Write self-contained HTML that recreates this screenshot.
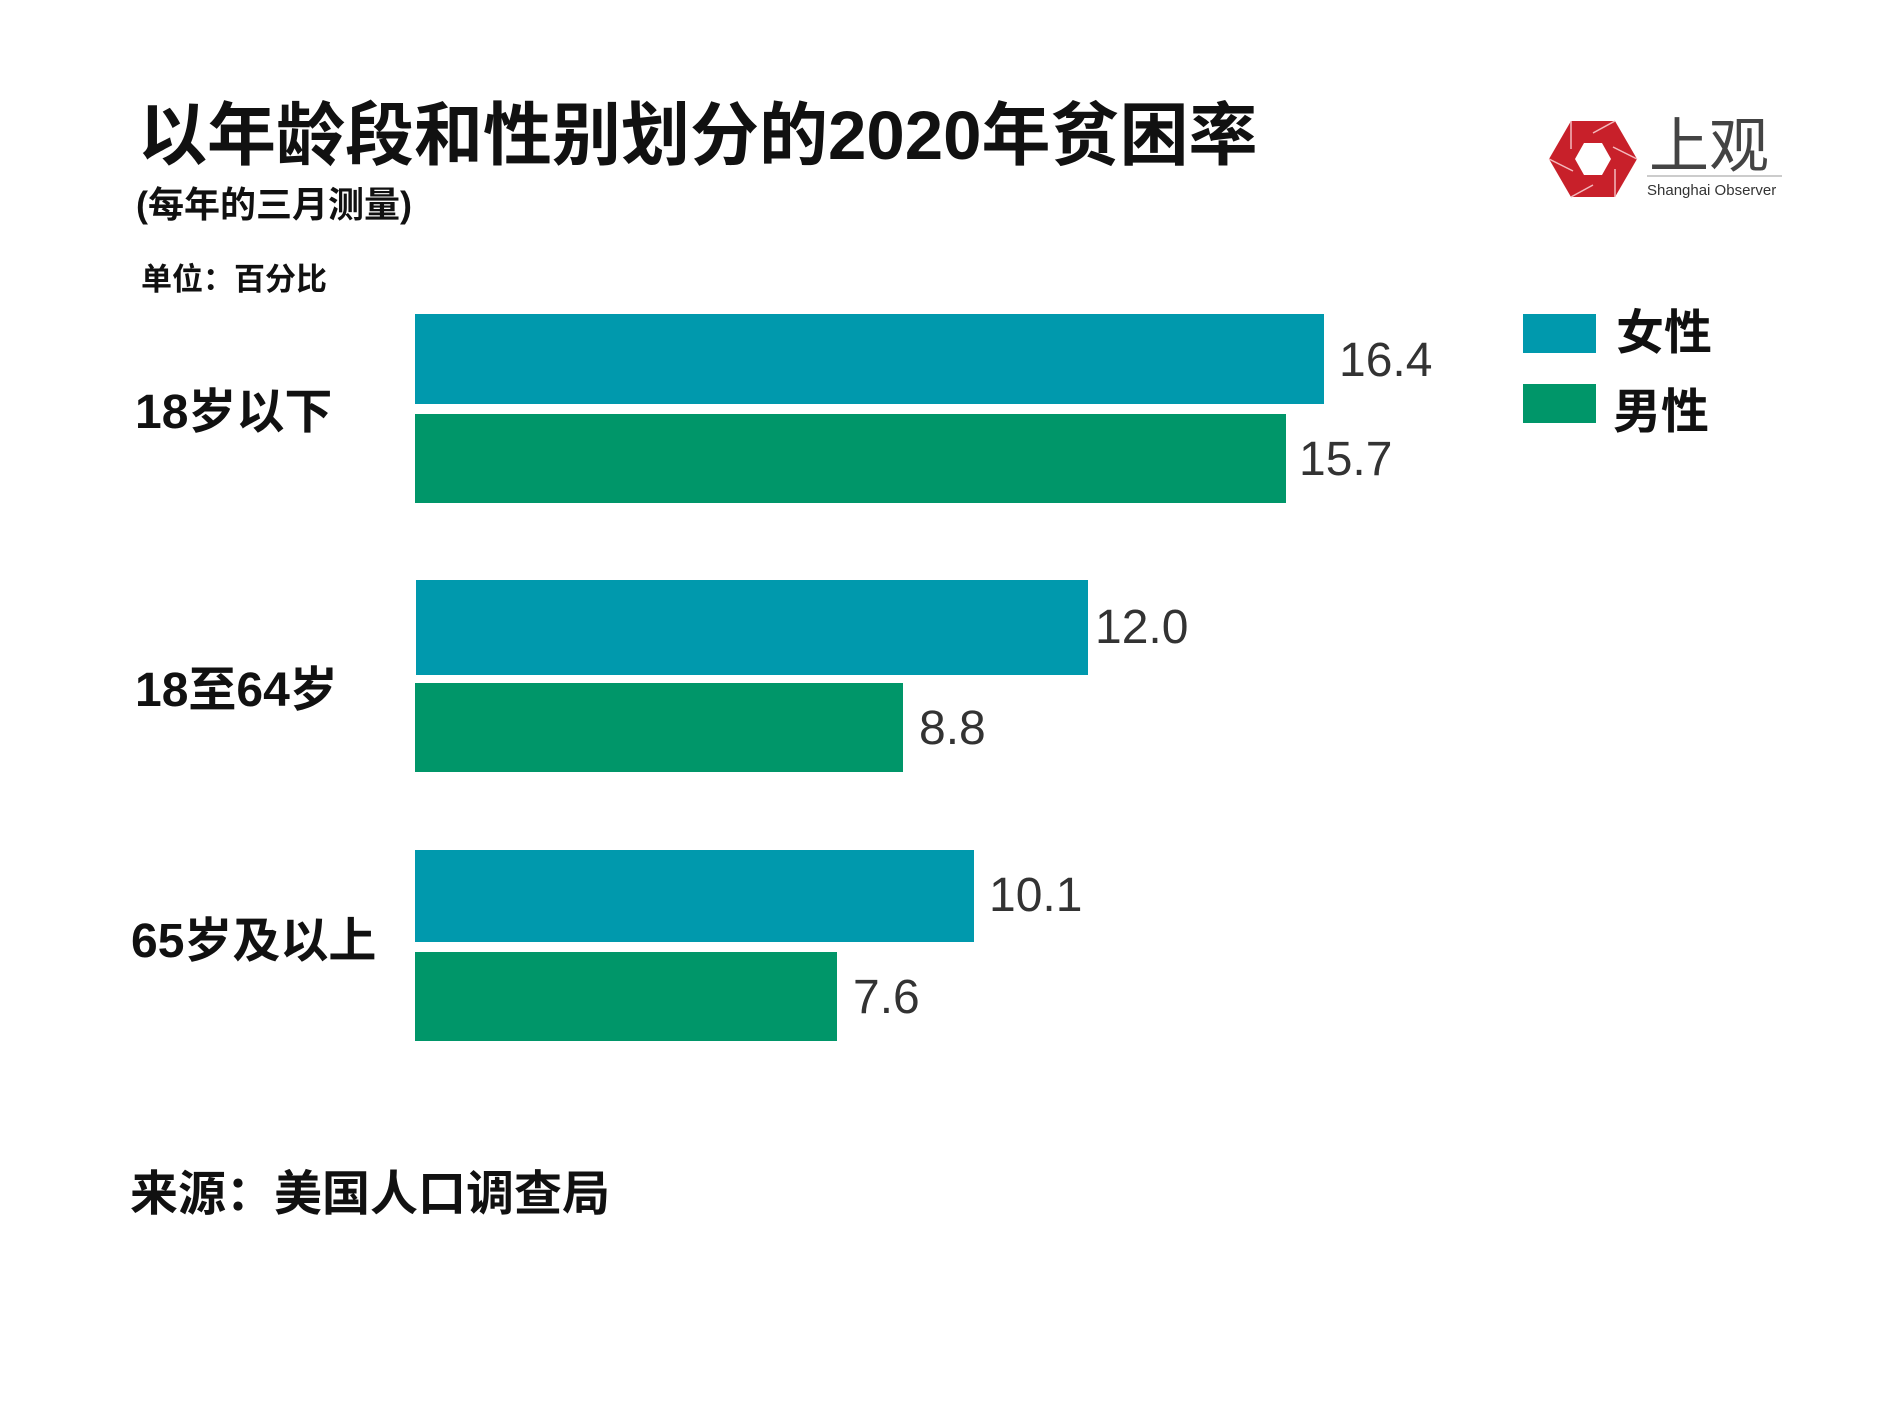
<!DOCTYPE html>
<html><head><meta charset="utf-8"><style>
body{margin:0;background:#fff;}
svg text{font-family:"Liberation Sans","Noto Sans CJK SC",sans-serif;}
</style></head><body>
<svg width="1890" height="1417" viewBox="0 0 1890 1417" xmlns="http://www.w3.org/2000/svg">
<rect width="1890" height="1417" fill="#fff"/>
<text x="138" y="159" font-size="69" font-weight="bold" fill="#111">以年龄段和性别划分的2020年贫困率</text>
<text x="136" y="217" font-size="36" font-weight="bold" fill="#111">(每年的三月测量)</text>
<text x="141" y="290" font-size="31" font-weight="bold" fill="#111">单位：百分比</text>

<rect x="415" y="314" width="909" height="90" fill="#0099AD"/>
<rect x="415" y="414" width="871" height="89" fill="#009669"/>
<rect x="416" y="580" width="672" height="95" fill="#0099AD"/>
<rect x="415" y="683" width="488" height="89" fill="#009669"/>
<rect x="415" y="850" width="559" height="92" fill="#0099AD"/>
<rect x="415" y="952" width="422" height="89" fill="#009669"/>

<g font-size="48" fill="#333">
<text x="1339" y="376">16.4</text>
<text x="1299" y="475">15.7</text>
<text x="1095" y="643">12.0</text>
<text x="919" y="744">8.8</text>
<text x="989" y="911">10.1</text>
<text x="853" y="1013">7.6</text>
</g>

<g font-size="48" font-weight="bold" fill="#111">
<text x="135" y="428">18岁以下</text>
<text x="135" y="706">18至64岁</text>
<text x="131" y="957">65岁及以上</text>
<text x="130" y="1210">来源：美国人口调查局</text>
</g>

<rect x="1523" y="314" width="73" height="39" fill="#0099AD"/>
<rect x="1523" y="384" width="73" height="39" fill="#009669"/>
<text x="1616" y="349" font-size="48" font-weight="bold" fill="#111">女性</text>
<text x="1613" y="428" font-size="48" font-weight="bold" fill="#111">男性</text>

<g transform="translate(1593,159)">
<polygon points="-44,0 -22,-38 22,-38 44,0 22,38 -22,38" fill="#C8202A"/>
<polygon points="-18,0 -9,-16 9,-16 18,0 9,16 -9,16" fill="#fff"/>
<g stroke="#f3b9bc" stroke-width="1.5">
<line x1="-22" y1="-38" x2="-22" y2="-10"/>
<line x1="22" y1="-38" x2="0" y2="-26"/>
<line x1="44" y1="0" x2="20" y2="-12"/>
<line x1="22" y1="38" x2="22" y2="10"/>
<line x1="-22" y1="38" x2="0" y2="26"/>
<line x1="-44" y1="0" x2="-20" y2="12"/>
</g>
</g>
<text x="1649" y="167" font-size="60" fill="#444" font-family="'Noto Serif CJK SC',serif">上观</text>
<line x1="1647" y1="176" x2="1782" y2="176" stroke="#bbb" stroke-width="1.5"/>
<text x="1647" y="195" font-size="15" fill="#333">Shanghai Observer</text>
</svg>
</body></html>
